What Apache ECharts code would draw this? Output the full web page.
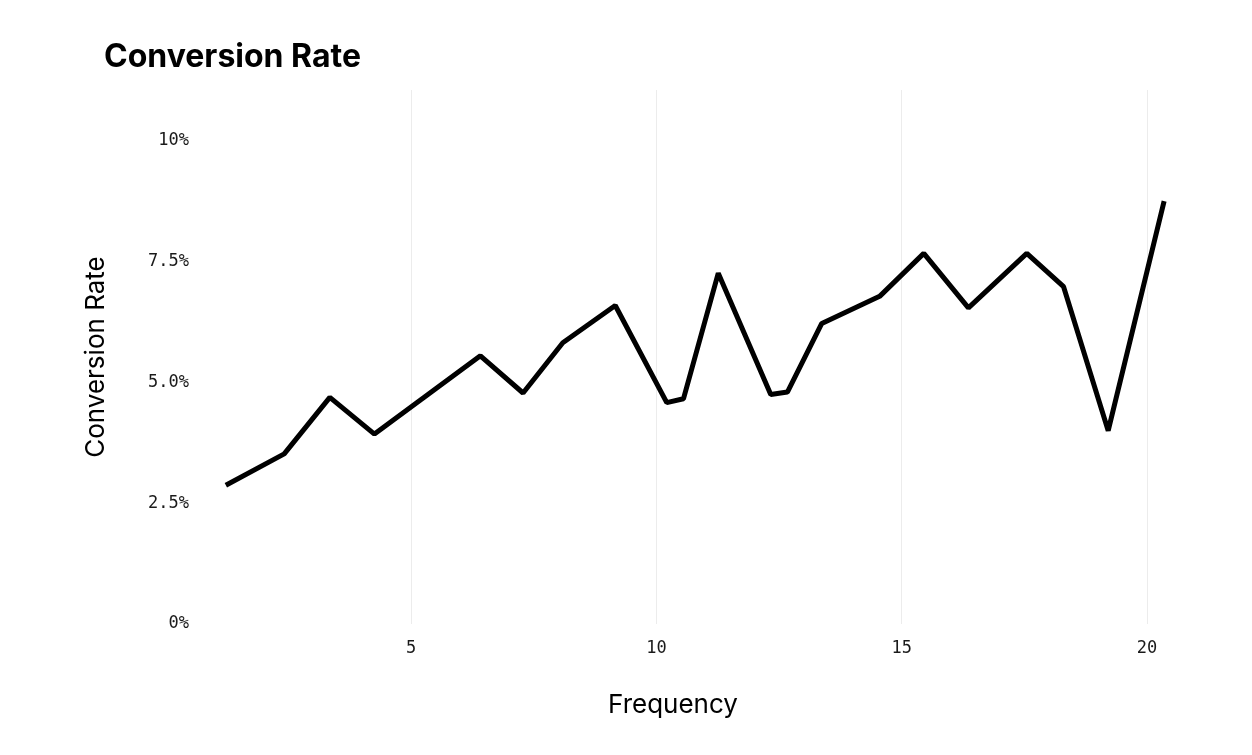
<!DOCTYPE html>
<html>
<head>
<meta charset="utf-8">
<script src="https://cdn.jsdelivr.net/npm/echarts@6/dist/echarts.min.js"></script>
<style>
  html, body { margin: 0; padding: 0; background: #ffffff; }
  #chart { width: 1252px; height: 755px; }
</style>
</head>
<body>
<div id="chart"></div>
<script>
const frequency = [1.22, 2.41, 3.34, 4.25, 6.41, 7.28, 8.09, 9.16, 10.21, 10.55, 11.26, 12.33, 12.67, 13.37, 14.55, 15.45, 16.36, 17.55, 18.30, 19.21, 20.35];
const conversionRate = [2.87, 3.52, 4.69, 3.93, 5.55, 4.78, 5.82, 6.59, 4.58, 4.66, 7.26, 4.75, 4.80, 6.22, 6.78, 7.67, 6.54, 7.67, 6.98, 4.00, 8.75];
const yTickValues = [0, 2.5, 5, 7.5, 10];
const yTickLabels = ['0%', '2.5%', '5.0%', '7.5%', '10%'];
const xTickValues = [5, 10, 15, 20];
const xTickLabels = ['5', '10', '15', '20'];

const points = frequency.map((f, i) => [f, conversionRate[i]]);

const chart = echarts.init(document.getElementById('chart'), null, { renderer: 'canvas' });
chart.setOption({
  backgroundColor: '#ffffff',
  animation: false,
  title: {
    text: 'Conversion Rate',
    left: 104,
    top: 41,
    padding: 0,
    textStyle: { fontFamily: 'Inter', fontWeight: 'bold', fontSize: 32, color: '#000000' }
  },
  grid: { left: 166, right: 56, top: 90, bottom: 131 },
  xAxis: {
    type: 'value',
    min: 0,
    max: 21,
    interval: 5,
    name: 'Frequency',
    nameLocation: 'middle',
    nameGap: 68,
    nameTextStyle: { fontFamily: 'Inter', fontSize: 26, color: '#000000', padding: [0, 16, 0, 0] },
    axisLine: { show: false },
    axisTick: { show: false },
    axisLabel: {
      margin: 16,
      showMinLabel: false,
      showMaxLabel: false,
      fontFamily: 'DejaVu Sans Mono',
      fontSize: 17,
      color: '#1a1a1a',
      formatter: v => { const k = xTickValues.indexOf(v); return k >= 0 ? xTickLabels[k] : ''; }
    },
    splitLine: { show: true, showMinLine: false, showMaxLine: false, lineStyle: { color: '#ececec', width: 1 } }
  },
  yAxis: {
    type: 'value',
    min: 0,
    max: 11.05,
    interval: 2.5,
    name: 'Conversion Rate',
    nameLocation: 'middle',
    nameGap: 57,
    nameTextStyle: { fontFamily: 'Inter', fontSize: 26, color: '#000000' },
    axisLine: { show: false },
    axisTick: { show: false },
    splitLine: { show: false },
    axisLabel: {
      margin: -23,
      fontFamily: 'DejaVu Sans Mono',
      fontSize: 17,
      color: '#1a1a1a',
      formatter: v => { const k = yTickValues.indexOf(v); return k >= 0 ? yTickLabels[k] : ''; }
    }
  },
  series: [{
    type: 'line',
    data: points,
    symbol: 'none',
    lineStyle: { color: '#000000', width: 5 },
    z: 5
  }]
});
</script>
</body>
</html>
